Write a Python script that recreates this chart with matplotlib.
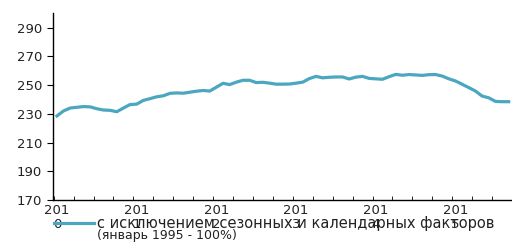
import matplotlib
matplotlib.use('Agg')
import matplotlib.pyplot as plt
import numpy as np

plt.rcParams['font.family'] = ['DejaVu Sans']

# monthly index, Jan 2010 .. Sep 2015
values = [228.5, 232, 234, 234.5, 235, 234.8, 233.5, 232.6, 232.4, 231.4,
          234, 236.4, 236.7, 239.3, 240.5, 241.8, 242.5, 244.2, 244.5, 244.3,
          245, 245.7, 246.2, 245.8, 248.5, 251.2, 250.3, 252, 253.3, 253.3,
          251.7, 251.9, 251.3, 250.6, 250.6, 250.7, 251.3, 252, 254.5, 256,
          255, 255.4, 255.6, 255.6, 254.2, 255.5, 256, 254.6, 254.3, 254,
          255.8, 257.4, 256.8, 257.3, 257, 256.7, 257.2, 257.3, 256.2, 254.3,
          252.8, 250.5, 248.2, 245.8, 242.3, 241.1, 238.6, 238.4, 238.4]
year_labels = ['201\n0', '201\n1', '201\n2', '201\n3', '201\n4', '201\n5']
y_ticks = [170, 190, 210, 230, 250, 270, 290]
series_name = 'с исключением сезонных и календарных факторов'
series_note = '(январь 1995 - 100%)'

months = np.arange(len(values))

fig = plt.figure(figsize=(5.12, 2.42), dpi=100)
ax = fig.add_axes([0.1035, 0.1736, 0.8965, 0.772])

ax.plot(months, values, color='#4ba7bf', lw=2.3, label=series_name)

ax.set_ylim(170, 300)
ax.set_yticks(y_ticks)
ax.set_xlim(-0.6, 68.5)
ax.set_xticks(np.arange(0, 72, 12))
ax.set_xticklabels(year_labels, linespacing=1.05)
ax.set_xticks(np.arange(-0.5, 69, 3), minor=True)

for s in ['top', 'right']:
    ax.spines[s].set_visible(False)
ax.spines['left'].set_linewidth(1.0)
ax.spines['bottom'].set_linewidth(1.0)
ax.tick_params(axis='y', direction='out', length=4, labelsize=9.5, pad=4,
               labelcolor='#222222')
ax.tick_params(axis='x', which='major', length=0, labelsize=9.5, pad=3,
               labelcolor='#222222')
ax.tick_params(axis='x', which='minor', direction='in', length=3)

# legend: handle + first line, then the note underneath
leg = fig.legend(loc='center left', bbox_to_anchor=(0.105, 0.076), frameon=False,
                 fontsize=10.5, handlelength=2.75, handletextpad=0.2,
                 borderpad=0, borderaxespad=0, labelcolor='#222222')
fig.text(0.19, 0.028, series_note, fontsize=9, va='center', ha='left',
         color='#222222')

fig.savefig('out.png', dpi=100)
